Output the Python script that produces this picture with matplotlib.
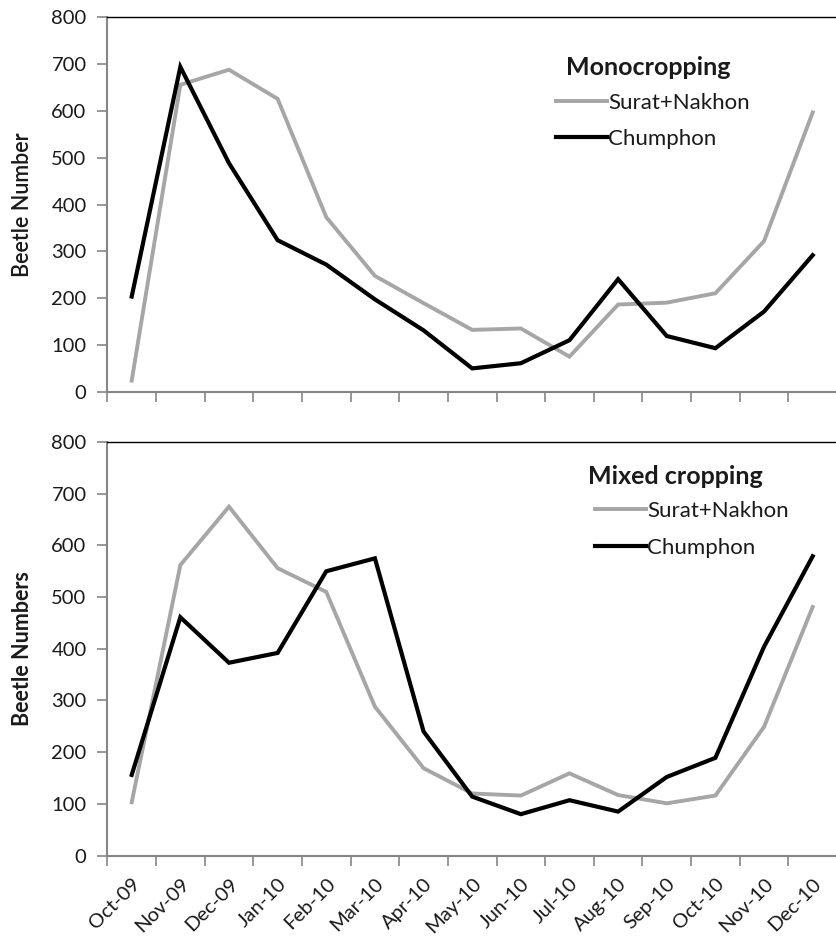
import matplotlib
matplotlib.use("Agg")
import matplotlib.pyplot as plt

plt.rcParams['font.family'] = ['Lato', 'DejaVu Sans']

months = ["Oct-09", "Nov-09", "Dec-09", "Jan-10", "Feb-10", "Mar-10", "Apr-10",
          "May-10", "Jun-10", "Jul-10", "Aug-10", "Sep-10", "Oct-10", "Nov-10", "Dec-10"]

# Monocropping
mono_surat = [25, 655, 687, 625, 373, 248, 190, 133, 136, 76, 187, 191, 211, 322, 596]
mono_chumphon = [204, 693, 488, 324, 272, 198, 132, 51, 62, 111, 241, 120, 94, 172, 292]

# Mixed cropping
mixed_surat = [103, 562, 675, 556, 510, 288, 169, 120, 116, 159, 117, 101, 116, 249, 481]
mixed_chumphon = [156, 461, 373, 392, 550, 575, 240, 114, 80, 107, 85, 152, 189, 404, 579]

GRAY = "#a6a6a6"
AXIS_GRAY = "#868686"
TEXT = "#1a1a1a"

fig = plt.figure(figsize=(8.37, 9.47), dpi=100)
ax_top = fig.add_axes([0.1283, 0.5857, 0.8717, 0.3967])
ax_bot = fig.add_axes([0.1283, 0.0966, 0.8717, 0.4366])

x = list(range(len(months)))


def style(ax, ylabel, bold_label):
    ax.set_xlim(-0.5, 14.344)
    ax.set_ylim(0, 800)
    ax.set_yticks(range(0, 801, 100))
    ax.set_xticks([i + 0.5 for i in range(-1, len(months))])
    ax.tick_params(axis='both', which='major', length=7, width=1.2,
                   color=AXIS_GRAY, labelsize=14.5, labelcolor=TEXT)
    ax.tick_params(axis='y', pad=8)
    ax.spines['right'].set_visible(False)
    ax.spines['top'].set_color('black')
    ax.spines['top'].set_linewidth(1.0)
    for s in ('left', 'bottom'):
        ax.spines[s].set_color(AXIS_GRAY)
        ax.spines[s].set_linewidth(1.5)
    ax.set_ylabel(ylabel, fontsize=15.5, color=TEXT,
                  fontweight='bold' if bold_label else 'semibold')
    ax.yaxis.set_label_coords(-0.102, 0.5)


def draw(ax, surat, chumphon, title, title_xy, legend_xy):
    l1, = ax.plot(x, surat, color=GRAY, lw=2.8, solid_joinstyle='miter', label="Surat+Nakhon")
    l2, = ax.plot(x, chumphon, color="black", lw=3.0, solid_joinstyle='miter', label="Chumphon")
    ax.text(title_xy[0], title_xy[1], title, transform=ax.transAxes, color=TEXT,
            fontsize=18, fontweight='bold', ha='left', va='center')
    leg = ax.legend(handles=[l1, l2], loc='upper left', bbox_to_anchor=legend_xy,
                    frameon=False, fontsize=16, handlelength=2.3, handletextpad=0.05,
                    labelspacing=0.75, borderpad=0, borderaxespad=0)
    for t in leg.get_texts():
        t.set_color(TEXT)


draw(ax_top, mono_surat, mono_chumphon, "Monocropping", (0.629, 0.866), (0.615, 0.798))
draw(ax_bot, mixed_surat, mixed_chumphon, "Mixed cropping", (0.6586, 0.916), (0.668, 0.857))

style(ax_top, "Beetle Number", False)
style(ax_bot, "Beetle Numbers", True)

ax_top.set_xticklabels([])
ax_bot.set_xticks(x, minor=True)
ax_bot.set_xticklabels([])
ax_bot.set_xticklabels(months, minor=True, rotation=45, ha='right', rotation_mode='anchor')
ax_bot.tick_params(axis='x', which='minor', length=0, pad=14, labelsize=14.5, labelcolor=TEXT)

fig.savefig("out.png", dpi=100)
